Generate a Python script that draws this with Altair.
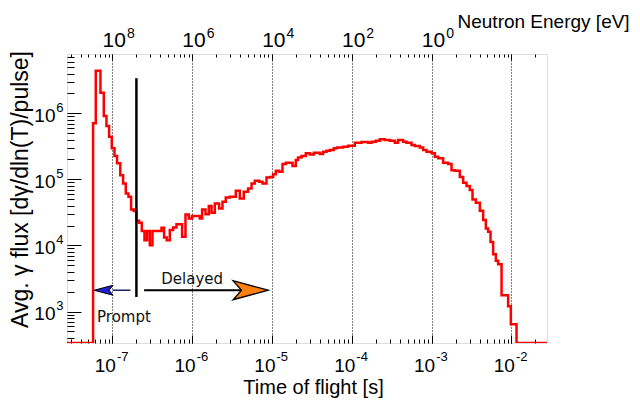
import json
import altair as alt
import pandas as pd

# ---- histogram (bin start time [s], average gamma flux) ----
time_s = [2.70e-8, 5.73e-8, 6.19e-8, 7.09e-8, 7.81e-8, 8.43e-8, 9.09e-8, 9.83e-8, 1.063e-7, 1.145e-7,
          1.256e-7, 1.362e-7, 1.472e-7, 1.591e-7, 1.715e-7, 1.854e-7, 2.005e-7, 2.161e-7, 2.336e-7, 2.525e-7,
          2.72e-7, 2.943e-7, 3.18e-7, 4.125e-7, 4.445e-7, 4.80e-7, 5.24e-7, 5.77e-7, 6.36e-7, 7.47e-7,
          8.24e-7, 9.07e-7, 9.97e-7, 1.245e-6, 1.331e-6, 1.468e-6, 1.614e-6, 1.746e-6, 1.920e-6, 2.174e-6,
          2.397e-6, 2.636e-6, 2.959e-6, 3.519e-6, 3.95e-6, 4.43e-6, 5.02e-6, 5.54e-6, 6.09e-6, 6.89e-6,
          7.60e-6, 8.53e-6, 9.39e-6, 1.032e-5, 1.116e-5, 1.227e-5, 1.354e-5, 1.489e-5, 1.807e-5, 1.987e-5,
          2.12e-5, 2.343e-5, 2.652e-5, 2.977e-5, 3.34e-5, 3.97e-5, 4.37e-5, 4.82e-5, 5.30e-5, 5.95e-5,
          6.54e-5, 7.78e-5, 8.99e-5, 1.090e-4, 1.323e-4, 1.60e-4, 1.766e-4, 2.0e-4, 2.243e-4, 2.592e-4,
          2.994e-4, 3.458e-4, 3.80e-4, 4.395e-4, 4.85e-4, 5.60e-4, 6.16e-4, 7.11e-4, 7.82e-4, 8.63e-4,
          9.97e-4, 1.097e-3, 1.206e-3, 1.393e-3, 1.610e-3, 1.776e-3, 1.953e-3, 2.256e-3, 2.482e-3, 2.737e-3,
          3.01e-3, 3.254e-3, 3.58e-3, 4.02e-3, 4.42e-3, 4.78e-3, 5.11e-3, 5.47e-3, 5.90e-3, 6.38e-3,
          6.81e-3, 7.52e-3, 9.09e-3, 9.83e-3, 1.158e-2, 2.79e-2]
flux = [334, 7.05e5, 4.42e6, 2.05e6, 9.10e5, 6.43e5, 4.42e5, 2.95e5, 2.25e5, 1.75e5,
        1.16e5, 8.69e4, 6.14e4, 5.45e4, 3.51e4, 3.31e4, 2.36e4, 2.20e4, 1.66e4, 1.20e4,
        1.66e4, 1.01e4, 1.65e4, 1.85e4, 1.32e4, 1.20e4, 1.71e4, 1.87e4, 2.10e4, 1.35e4,
        2.95e4, 2.56e4, 2.78e4, 2.56e4, 3.51e4, 2.98e4, 3.94e4, 3.12e4, 4.33e4, 3.64e4,
        4.58e4, 5.34e4, 5.45e4, 6.71e4, 5.15e4, 6.48e4, 7.31e4, 8.69e4, 9.53e4, 9.20e4,
        8.69e4, 1.07e5, 1.09e5, 1.20e5, 1.35e5, 1.30e5, 1.71e5, 1.79e5, 1.59e5, 1.96e5,
        2.15e5, 2.25e5, 2.48e5, 2.39e5, 2.53e5, 2.42e5, 2.62e5, 2.71e5, 2.78e5, 2.95e5,
        3.05e5, 3.12e5, 3.23e5, 3.59e5, 3.67e5, 3.59e5, 3.71e5, 3.85e5, 4.04e5, 3.94e5,
        3.85e5, 3.59e5, 3.94e5, 3.71e5, 3.59e5, 3.31e5, 3.20e5, 3.05e5, 2.78e5, 2.62e5,
        2.48e5, 2.20e5, 2.08e5, 1.79e5, 1.71e5, 1.38e5, 1.35e5, 1.09e5, 8.87e4, 7.91e4,
        6.88e4, 4.98e4, 4.42e4, 3.34e4, 2.42e4, 1.81e4, 1.61e4, 1.13e4, 7.38e3, 5.85e3,
        5.21e3, 1.77e3, 1.20e3, 643, 334, 334]

# ---- axis ranges and tick labels (base "10" plus exponent) ----
x_domain = [2.70e-8, 2.79e-2]
y_domain = [334, 7.9e6]
label_base = "10"
xtick_vals = [1e-7, 1e-6, 1e-5, 1e-4, 1e-3, 1e-2]
xtick_exp = ["-7", "-6", "-5", "-4", "-3", "-2"]
energy_vals = [1e-7, 1e-6, 1e-5, 1e-4, 1e-3]
energy_exp = ["8", "6", "4", "2", "0"]
ytick_vals = [1e3, 1e4, 1e5, 1e6]
ytick_exp = ["3", "4", "5", "6"]

# ---- annotations ----
sep_t = [2.0e-7]
sep_top = [3.4e6]
sep_bottom = [1.66e3]
arrow_y = [2.1e3]
prompt_shaft_t = [1.01e-7]
prompt_shaft_t2 = [1.686e-7]
prompt_head_t = [7.76e-8]
delayed_shaft_t = [2.496e-7]
delayed_shaft_t2 = [4.15e-6]
delayed_head_t = [5.39e-6]
delayed_label = ["Delayed"]
delayed_label_t = [1.0e-6]
delayed_label_y = [3.16e3]
prompt_label = ["Prompt"]
prompt_label_t = [6.43e-8]
prompt_label_y = [828]

FONT = "Liberation Sans"
W, H = 480, 289


def label_expr(vals, texts):
    return f"{json.dumps(texts, ensure_ascii=False)}[indexof({json.dumps(vals)}, datum.value)]"


MAJOR = "abs(log(datum.value)/LN10 - round(log(datum.value)/LN10)) < 0.001"


def tick_size(major, minor):
    return {"condition": {"test": MAJOR, "value": major}, "value": minor}


def label_axis(orient, vals, expr, size, padding, align, baseline, offset, **kw):
    return alt.Axis(orient=orient, values=vals, labelExpr=expr, ticks=False, tickSize=0, domain=False,
                    labelFont=FONT, labelFontSize=size, labelColor="black", labelPadding=padding,
                    labelAlign=align, labelBaseline=baseline, labelOffset=offset, labelFlush=False,
                    labelOverlap=False, **kw)


def tick_axis(orient, offset, major, minor):
    return alt.Axis(orient=orient, offset=offset, labels=False, domain=False, grid=False, ticks=True,
                    tickCount=40, tickColor="black", tickWidth=1, tickSize=tick_size(major, minor),
                    title=None)


xs = alt.Scale(type="log", domain=x_domain, nice=False)
ys = alt.Scale(type="log", domain=y_domain, nice=False)

ax_bottom = label_axis("bottom", xtick_vals, f"'{label_base}'", 19, 28, "right", "alphabetic", 3,
                       grid=True, gridDash=[1, 2], gridColor="black", gridOpacity=1, gridWidth=1,
                       title="Time of flight [s]", titleFont=FONT, titleFontSize=20,
                       titleFontWeight="normal", titleColor="black", titleX=246, titleY=50,
                       titleAlign="center", titleBaseline="alphabetic")
ax_bottom_exp = label_axis("bottom", xtick_vals, label_expr(xtick_vals, xtick_exp), 13, 17, "left",
                           "alphabetic", 4, grid=False, title=None)
ax_top = label_axis("top", energy_vals, f"'{label_base}'", 21, 8, "right", "alphabetic", 13,
                    grid=False, title="Neutron Energy [eV]", titleFont=FONT, titleFontSize=19,
                    titleFontWeight="normal", titleColor="black", titleX=390, titleY=-27,
                    titleAlign="left", titleBaseline="alphabetic")
ax_top_exp = label_axis("top", energy_vals, label_expr(energy_vals, energy_exp), 14, 17, "left",
                        "alphabetic", 14, grid=False, title=None)
ay_left = label_axis("left", ytick_vals, f"'{label_base}'", 19, 12, "right", "alphabetic", 8,
                     grid=False, title="Avg. γ flux [dγ/dln(T)/pulse]", titleFont=FONT, titleFontSize=23,
                     titleFontWeight="normal", titleColor="black", titleX=-40, titleY=135, titleAngle=270,
                     titleAlign="center", titleBaseline="alphabetic")
ay_left_exp = label_axis("left", ytick_vals, label_expr(ytick_vals, ytick_exp), 13, 4, "right",
                         "alphabetic", -2, grid=False, title=None)

ax_ticks_bottom = tick_axis("top", -H, 8, 4)
ax_ticks_top = tick_axis("bottom", -H, 6, 3)
ay_ticks = tick_axis("right", -W, 14, 7)

hist = alt.Chart(pd.DataFrame({"t": time_s, "flux": flux})).mark_line(
    interpolate="step-after", color="#ff0000", strokeWidth=2.5, clip=True
).encode(
    x=alt.X("t:Q", scale=xs, axis=ax_bottom),
    y=alt.Y("flux:Q", scale=ys, axis=ay_left),
)

sep = alt.Chart(pd.DataFrame({"t": sep_t, "y1": sep_top, "y2": sep_bottom})).mark_rule(
    color="black", strokeWidth=2.5
).encode(
    x=alt.X("t:Q", scale=xs, axis=ax_bottom_exp),
    y=alt.Y("y1:Q", scale=ys, axis=ay_left_exp),
    y2="y2:Q",
)

prompt_shaft = alt.Chart(pd.DataFrame({"t": prompt_shaft_t, "t2": prompt_shaft_t2, "y": arrow_y})).mark_rule(
    color="#20205a", strokeWidth=1.5
).encode(
    x=alt.X("t:Q", scale=xs, axis=ax_ticks_bottom), x2="t2:Q",
    y=alt.Y("y:Q", scale=ys, axis=ay_ticks),
)

delayed_shaft = alt.Chart(pd.DataFrame({"t": delayed_shaft_t, "t2": delayed_shaft_t2, "y": arrow_y})).mark_rule(
    color="black", strokeWidth=2
).encode(
    x=alt.X("t:Q", scale=xs, axis=ax_ticks_top), x2="t2:Q",
    y=alt.Y("y:Q", scale=ys, axis=None),
)

prompt_head = alt.Chart(pd.DataFrame({"t": prompt_head_t, "y": arrow_y})).mark_point(
    shape="M-1,0L1,-0.526L0.58,0L1,0.526Z", filled=True, fill="#1f1fd6", stroke="black",
    strokeWidth=1, opacity=1, size=361
).encode(
    x=alt.X("t:Q", scale=xs, axis=ax_top),
    y=alt.Y("y:Q", scale=ys, axis=None),
)

delayed_head = alt.Chart(pd.DataFrame({"t": delayed_head_t, "y": arrow_y})).mark_point(
    shape="M1,0L-1,-0.543L-0.52,0L-1,0.543Z", filled=True, fill="#ff7f0e", stroke="black",
    strokeWidth=1.3, opacity=1, size=1225
).encode(
    x=alt.X("t:Q", scale=xs, axis=ax_top_exp),
    y=alt.Y("y:Q", scale=ys, axis=None),
)

delayed_txt = alt.Chart(pd.DataFrame({"t": delayed_label_t, "y": delayed_label_y, "s": delayed_label})).mark_text(
    font="DejaVu Sans", fontSize=15, color="#111111", align="center", baseline="middle"
).encode(
    x=alt.X("t:Q", scale=xs, axis=None),
    y=alt.Y("y:Q", scale=ys, axis=None),
    text="s:N",
)

prompt_txt = alt.Chart(pd.DataFrame({"t": prompt_label_t, "y": prompt_label_y, "s": prompt_label})).mark_text(
    font="DejaVu Sans", fontSize=15, color="#111111", align="left", baseline="middle"
).encode(
    x=alt.X("t:Q", scale=xs, axis=None),
    y=alt.Y("y:Q", scale=ys, axis=None),
    text="s:N",
)

chart = alt.layer(
    hist, sep, prompt_shaft, delayed_shaft, prompt_head, delayed_head, delayed_txt, prompt_txt
).resolve_axis(
    x="independent", y="independent"
).properties(
    width=W, height=H,
    autosize=alt.AutoSizeParams(type="none"),
    padding={"left": 59, "top": 46, "right": 85, "bottom": 58},
).configure_view(
    stroke="black", strokeWidth=1.5
).configure(
    font=FONT
)

chart.save("out.html", embed_options={"renderer": "svg", "actions": False})
